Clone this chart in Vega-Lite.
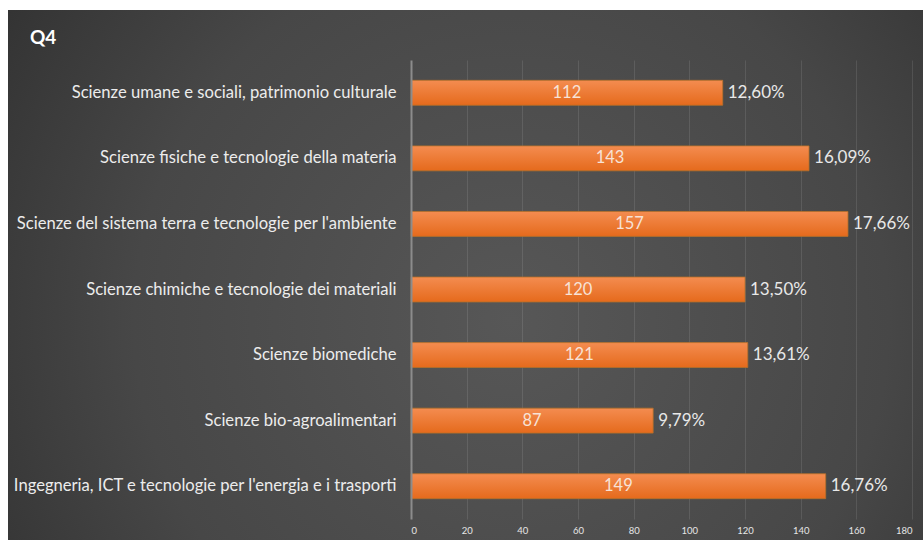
{
  "$schema": "https://vega.github.io/schema/vega-lite/v6.json",
  "width": 915,
  "height": 530,
  "autosize": {"type": "none"},
  "padding": {"left": 8, "top": 10, "right": 0, "bottom": 0},
  "background": "white",
  "title": {
    "text": "Q4",
    "anchor": "start",
    "frame": "group",
    "orient": "top",
    "offset": -57,
    "dx": 22,
    "baseline": "bottom",
    "font": "Lato",
    "fontSize": 19,
    "fontWeight": "bold",
    "color": "#ffffff"
  },
  "config": {
    "view": {
      "stroke": null,
      "fill": {
        "gradient": "radial",
        "x1": 0.55, "y1": 0.55, "r1": 0,
        "x2": 0.55, "y2": 0.55, "r2": 0.75,
        "stops": [
          {"offset": 0, "color": "#575757"},
          {"offset": 0.55, "color": "#474747"},
          {"offset": 1, "color": "#2b2b2b"}
        ]
      }
    },
    "font": "Lato"
  },
  "data": {
    "values": [
      {"area": "Scienze umane e sociali, patrimonio culturale", "n": 112, "pct": "12,60%"},
      {"area": "Scienze fisiche e tecnologie della materia", "n": 143, "pct": "16,09%"},
      {"area": "Scienze del sistema terra e tecnologie per l'ambiente", "n": 157, "pct": "17,66%"},
      {"area": "Scienze chimiche e tecnologie dei materiali", "n": 120, "pct": "13,50%"},
      {"area": "Scienze biomediche", "n": 121, "pct": "13,61%"},
      {"area": "Scienze bio-agroalimentari", "n": 87, "pct": "9,79%"},
      {"area": "Ingegneria, ICT e tecnologie per l'energia e i trasporti", "n": 149, "pct": "16,76%"}
    ]
  },
  "encoding": {
    "y": {
      "field": "area",
      "type": "nominal",
      "sort": null,
      "scale": {"range": [50, 509], "paddingInner": 0.62, "paddingOuter": 0.31},
      "axis": {
        "title": null,
        "orient": "left",
        "offset": -403,
        "ticks": false,
        "domain": true,
        "domainColor": "#8c8c8c",
        "domainWidth": 2,
        "labelPadding": 15,
        "labelFont": "Lato",
        "labelFontSize": 16.6,
        "labelColor": "#ececec",
        "labelLimit": 0,
        "grid": false,
        "zindex": 1
      }
    }
  },
  "layer": [
    {
      "layer": [
        {
          "mark": {
            "type": "bar",
            "fill": {
              "gradient": "linear",
              "x1": 0, "y1": 0, "x2": 0, "y2": 1,
              "stops": [
                {"offset": 0, "color": "#f48c50"},
                {"offset": 1, "color": "#e56a1c"}
              ]
            },
            "stroke": "#b5702a",
            "strokeWidth": 0.8
          },
          "encoding": {
            "x": {
              "field": "n",
              "type": "quantitative",
              "scale": {"domain": [0, 180], "range": [403, 904], "nice": false},
              "axis": {
                "title": null,
                "orient": "bottom",
                "offset": -18,
                "values": [0, 20, 40, 60, 80, 100, 120, 140, 160, 180],
                "ticks": false,
                "domain": false,
                "labelPadding": 3,
                "labelFontSize": 9.5,
                "labelColor": "#e6e6e6",
                "labelFont": "Lato",
                "grid": false,
                "zindex": 1
              }
            }
          }
        },
        {
          "mark": {"type": "text", "align": "left", "baseline": "middle", "dx": 5, "fontSize": 17, "font": "Lato", "color": "#e8e8e8"},
          "encoding": {
            "x": {"field": "n", "type": "quantitative"},
            "text": {"field": "pct", "type": "nominal"}
          }
        }
      ]
    },
    {
      "mark": {"type": "text", "align": "center", "baseline": "middle", "fontSize": 16.5, "font": "Lato", "color": "#f7e2d6"},
      "encoding": {
        "x": {
          "field": "n",
          "type": "quantitative",
          "scale": {"domain": [0, 360], "range": [403, 904], "nice": false},
          "axis": {
            "title": null,
            "orient": "top",
            "values": [40, 80, 120, 160, 200, 240, 280, 320, 360],
            "labels": false,
            "ticks": false,
            "domain": false,
            "grid": true,
            "gridColor": "#ffffff",
            "gridOpacity": 0.1,
            "gridWidth": 1,
            "zindex": 0
          }
        },
        "text": {"field": "n", "type": "quantitative"}
      }
    }
  ],
  "resolve": {"scale": {"x": "independent"}}
}
